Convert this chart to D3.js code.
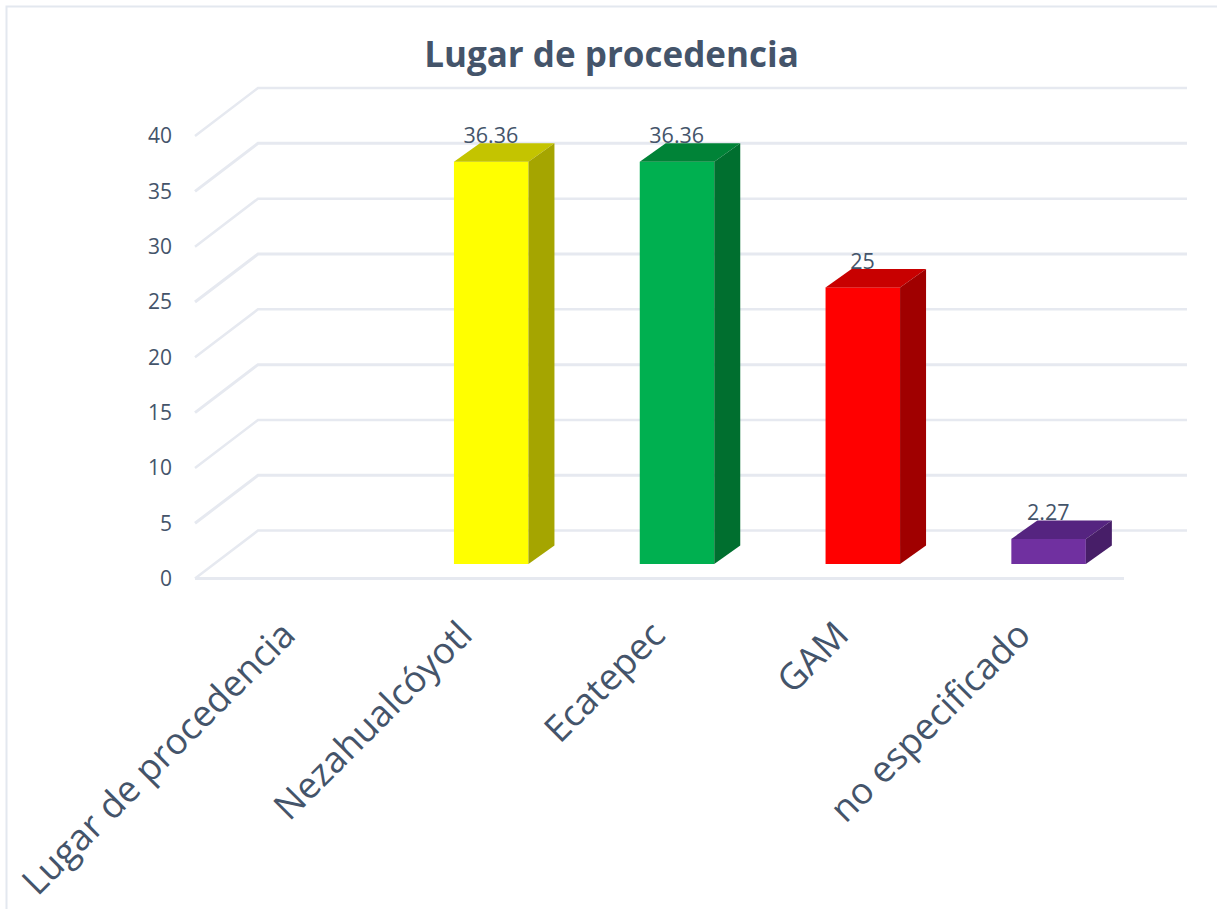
<!DOCTYPE html>
<html><head><meta charset="utf-8"><style>html,body{margin:0;padding:0;background:#fff}svg{display:block}text{font-family:"Open Sans",sans-serif}</style>
<script src="https://cdn.jsdelivr.net/npm/d3@7"></script></head><body><script>
const categories=["Lugar de procedencia","Nezahualcóyotl","Ecatepec","GAM","no especificado"];
const values=[null,36.36,36.36,25,2.27];
const valueLabels=["","36.36","36.36","25","2.27"];
const ticks=[0,5,10,15,20,25,30,35,40];
const faces=[null,["#ffff00","#c4c400","#a5a500"],["#00b050","#008337","#006f2f"],["#ff0000","#c80000","#a00000"],["#7030a0","#552480","#471e68"]];
const labelNudge=[-5,-14,-7,-9,-13];
const W=1217,H=909,ink="#44546a",grid="#e6e9f0";
const svg=d3.select("body").append("svg").attr("width",W).attr("height",H);
svg.append("path").attr("d",d3.line()([[6.5,H],[6.5,6.5],[W,6.5]])).attr("fill","none").attr("stroke","#e3e8ef").attr("stroke-width",2);
svg.append("text").attr("x",611.5).attr("y",67).attr("text-anchor","middle").attr("font-size",35).attr("font-weight",700).attr("fill",ink).text("Lugar de procedencia");
const y=d3.scaleLinear().domain([0,40]).range([578.6,136]);
const x0=d3.scaleBand().domain(categories).range([195,1124]);
const wallDx=63,wallDy=-48,barDx=17.5,barDy=-14.6,depthDx=26,depthDy=-18.5;
const g=svg.append("g");
ticks.forEach(t=>{
  const yy=y(t);
  if(t===0) g.append("line").attr("x1",195).attr("x2",1124).attr("y1",yy).attr("y2",yy).attr("stroke",grid).attr("stroke-width",3);
  g.append("path").attr("d",d3.line()([[195,yy],[195+wallDx,yy+wallDy],[1187,yy+wallDy]])).attr("fill","none").attr("stroke",grid).attr("stroke-width",t%10===5?3:2.5);
  g.append("text").attr("x",172).attr("y",yy).attr("dy","0.35em").attr("text-anchor","end").attr("font-size",21).attr("fill",ink).text(t);
});
const bw=74.5;
categories.forEach((c,i)=>{
  const v=values[i]; if(v==null) return;
  const xl=x0(c)+x0.bandwidth()/2+barDx-bw/2, xr=xl+bw, yb=y(0)+barDy, yt=y(v)+barDy;
  const f=faces[i];
  svg.append("text").attr("x",xl+37).attr("y",yt+depthDy).attr("text-anchor","middle").attr("font-size",21.5).attr("fill",ink).text(valueLabels[i]);
  svg.append("rect").attr("x",xl).attr("y",yt).attr("width",bw).attr("height",yb-yt).attr("fill",f[0]);
  svg.append("path").attr("fill",f[1]).attr("d",d3.line()([[xl,yt],[xl+depthDx,yt+depthDy],[xr+depthDx,yt+depthDy],[xr,yt]])+"Z");
  svg.append("path").attr("fill",f[2]).attr("d",d3.line()([[xr,yt],[xr+depthDx,yt+depthDy],[xr+depthDx,yb+depthDy],[xr,yb]])+"Z");
});
categories.forEach((c,i)=>{
  const cx=x0(c)+x0.bandwidth()/2+barDx;
  svg.append("text").attr("transform",`translate(${cx-12+labelNudge[i]},628) rotate(-45)`).attr("text-anchor","end").attr("dy","0.35em").attr("font-size",36.5).attr("fill",ink).text(c);
});
</script></body></html>
